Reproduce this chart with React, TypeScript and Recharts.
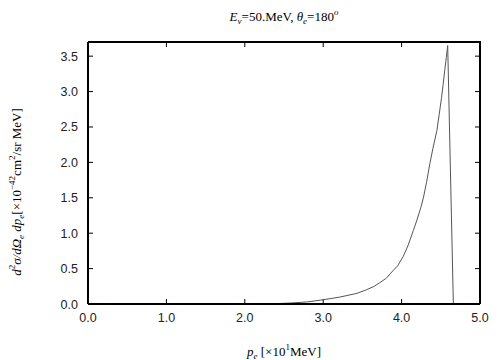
import React from "react";
import { LineChart, Line, XAxis, YAxis, Customized } from "recharts";

const momentum = [2.17, 2.4, 2.6, 2.8, 3.0, 3.2, 3.43, 3.55, 3.65, 3.72, 3.8, 3.89, 3.95, 4.02, 4.08, 4.15, 4.2, 4.25, 4.28, 4.32, 4.36, 4.4, 4.45, 4.48, 4.51, 4.53, 4.55, 4.57, 4.588, 4.66];
const crossSection = [0, 0.005, 0.015, 0.03, 0.06, 0.095, 0.15, 0.2, 0.25, 0.3, 0.36, 0.47, 0.54, 0.67, 0.82, 1.04, 1.2, 1.38, 1.51, 1.73, 1.98, 2.2, 2.45, 2.68, 2.92, 3.1, 3.3, 3.48, 3.65, 0];
const xTicks = [0, 1, 2, 3, 4, 5];
const yTicks = [0, 0.5, 1, 1.5, 2, 2.5, 3, 3.5];
const X_MIN = 0;
const X_MAX = 5;
const Y_MIN = 0;
const Y_MAX = 3.7;

const data = momentum.map((p, i) => ({ p, v: crossSection[i] }));

const W = 504;
const H = 360;
const MARGIN = { top: 42, right: 24, bottom: 0, left: 0 };
const Y_AXIS_W = 88;
const X_AXIS_H = 56;
const PLOT = {
  left: MARGIN.left + Y_AXIS_W,
  right: W - MARGIN.right,
  top: MARGIN.top,
  bottom: H - MARGIN.bottom - X_AXIS_H,
};

const SANS = "'Liberation Sans', Arial, Helvetica, sans-serif";
const SERIF = "'Liberation Serif', 'Times New Roman', serif";
const TICK = 5;
const TICK_FONT = 12.5;

const sx = (v: number) => PLOT.left + ((v - X_MIN) / (X_MAX - X_MIN)) * (PLOT.right - PLOT.left);
const sy = (v: number) => PLOT.bottom - ((v - Y_MIN) / (Y_MAX - Y_MIN)) * (PLOT.bottom - PLOT.top);

const BottomTick = (props: any) => {
  const { x, y, payload } = props;
  return (
    <text x={x} y={y + 18} textAnchor="middle" fontSize={TICK_FONT} fontFamily={SANS} fill="#222">
      {Number(payload.value).toFixed(1)}
    </text>
  );
};

const LeftTick = (props: any) => {
  const { x, y, payload } = props;
  return (
    <text x={x - 10} y={y} dy="0.36em" textAnchor="end" fontSize={TICK_FONT} fontFamily={SANS} fill="#222">
      {Number(payload.value).toFixed(1)}
    </text>
  );
};

const Frame = () => (
  <g>
    <path
      d={`M${PLOT.left},${PLOT.top}H${PLOT.right}V${PLOT.bottom}`}
      stroke="#000"
      strokeWidth={2}
      fill="none"
    />
    {xTicks.map((t) => (
      <path
        key={"x" + t}
        d={`M${sx(t)},${PLOT.bottom}v${-TICK}M${sx(t)},${PLOT.top}v${TICK}`}
        stroke="#000"
        strokeWidth={1}
        fill="none"
      />
    ))}
    {yTicks.map((t) => (
      <path
        key={"y" + t}
        d={`M${PLOT.left},${sy(t)}h${TICK}M${PLOT.right},${sy(t)}h${-TICK}`}
        stroke="#000"
        strokeWidth={1}
        fill="none"
      />
    ))}
  </g>
);

const Texts = () => (
  <g fill="#000" fontFamily={SERIF}>
    <text x={284} y={21} textAnchor="middle" fontSize={13}>
      <tspan fontStyle="italic">E</tspan>
      <tspan fontStyle="italic" fontSize={9} dy={3}>ν</tspan>
      <tspan dy={-3}>=50.MeV,  </tspan>
      <tspan fontStyle="italic">θ</tspan>
      <tspan fontStyle="italic" fontSize={9} dy={3}>e</tspan>
      <tspan dy={-3}>=180</tspan>
      <tspan fontStyle="italic" fontSize={9} dy={-6}>o</tspan>
    </text>
    <text x={284} y={356} textAnchor="middle" fontSize={13}>
      <tspan fontStyle="italic">p</tspan>
      <tspan fontStyle="italic" fontSize={9} dy={3}>e</tspan>
      <tspan dy={-3}> [×10</tspan>
      <tspan fontSize={9} dy={-6}>1</tspan>
      <tspan dy={6}>MeV]</tspan>
    </text>
    <text x={21} y={192} textAnchor="middle" fontSize={13} transform="rotate(-90 21 192)">
      <tspan fontStyle="italic">d</tspan>
      <tspan fontSize={9} dy={-6}>2</tspan>
      <tspan fontStyle="italic" dy={6}>σ/dΩ</tspan>
      <tspan fontStyle="italic" fontSize={9} dy={3}>e</tspan>
      <tspan fontStyle="italic" dy={-3}> dp</tspan>
      <tspan fontStyle="italic" fontSize={9} dy={3}>e</tspan>
      <tspan dy={-3}>[×10</tspan>
      <tspan fontSize={9} dy={-6}>−42</tspan>
      <tspan dy={6}>cm</tspan>
      <tspan fontSize={9} dy={-6}>2</tspan>
      <tspan dy={6}>/sr MeV]</tspan>
    </text>
  </g>
);

export default function App() {
  return (
    <div style={{ position: "absolute", left: 0, top: 0, width: W, height: H, background: "#fff" }}>
      <LineChart width={W} height={H} data={data} margin={MARGIN}>
        <XAxis
          dataKey="p"
          type="number"
          domain={[X_MIN, X_MAX]}
          ticks={xTicks}
          interval={0}
          height={X_AXIS_H}
          tickSize={0}
          tickMargin={0}
          tickLine={false}
          axisLine={{ stroke: "#000", strokeWidth: 2 }}
          tick={<BottomTick />}
        />
        <YAxis
          type="number"
          domain={[Y_MIN, Y_MAX]}
          ticks={yTicks}
          interval={0}
          width={Y_AXIS_W}
          tickSize={0}
          tickMargin={0}
          tickLine={false}
          axisLine={{ stroke: "#000", strokeWidth: 2 }}
          tick={<LeftTick />}
        />
        <Line
          type="linear"
          dataKey="v"
          stroke="#555"
          strokeWidth={1}
          dot={false}
          activeDot={false}
          isAnimationActive={false}
        />
        <Customized component={Frame} />
        <Customized component={Texts} />
      </LineChart>
    </div>
  );
}
